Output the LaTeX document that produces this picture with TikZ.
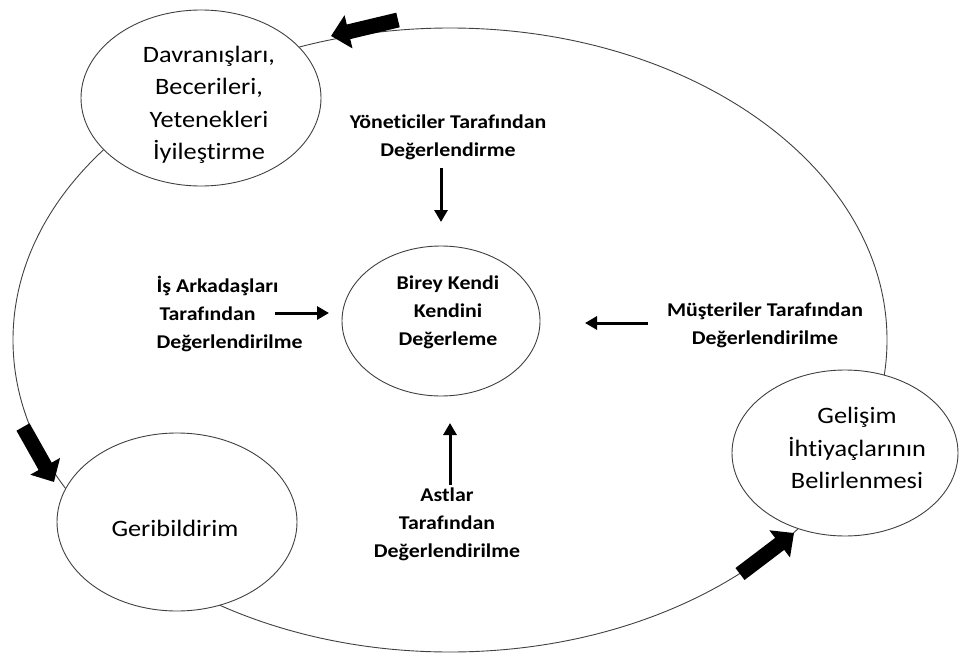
\documentclass[tikz,border=0pt]{standalone}
\usepackage{fontspec}
\setmainfont{Carlito}[FakeStretch=1.12,Ligatures={NoCommon}]
\usetikzlibrary{shapes.geometric,arrows.meta}
\begin{document}
\begin{tikzpicture}[x=1pt,y=-1pt,
  oval/.style={ellipse,draw=black!75,line width=0.9pt,fill=white,inner sep=0pt},
  reg/.style={align=center,font=\fontsize{23.5}{32.5}\selectfont},
  lbl/.style={align=center,font=\bfseries\fontsize{19.5}{28}\selectfont},
  small/.style={line width=3pt,-{Triangle[length=12pt,width=13pt]}},
  big/.style={line width=15pt,-{Triangle[length=18pt,width=33pt]}},
]
\useasboundingbox (0,0) rectangle (976,663);
\draw[black!75,line width=0.9pt] (450,340) ellipse [x radius=437pt, y radius=312pt];

\node[oval,minimum width=240pt,minimum height=176pt] (dav) at (201,98) {};
\node[reg] (davt) at (209,105) {Davranışları,\\Becerileri,\\Yetenekleri\\İyileştirme};
\node[oval,minimum width=240pt,minimum height=178pt] (geri) at (177,522) {};
\node[reg] (gerit) at (175,528) {Geribildirim};
\node[oval,minimum width=226pt,minimum height=166pt] (gel) at (845,453) {};
\node[reg] (gelt) at (857,448) {Gelişim\\İhtiyaçlarının\\Belirlenmesi};
\node[oval,minimum width=198pt,minimum height=150pt] (birey) at (441,321) {};
\node[lbl] (bireyt) at (448,312) {Birey Kendi\\Kendini\\Değerleme};

\node[lbl] (yon) at (448,137) {Yöneticiler Tarafından\\Değerlendirme};
\node[lbl,align=left,anchor=west] (is) at (153,314) {İş Arkadaşları\\\hspace{3pt}Tarafından\\Değerlendirilme};
\node[lbl] (mus) at (765,325) {Müşteriler Tarafından\\Değerlendirilme};
\node[lbl] (ast) at (447,524) {Astlar\\Tarafından\\Değerlendirilme};

\coordinate (yonA) at (441,168); \coordinate (yonB) at (441,222);
\coordinate (isA) at (275,313); \coordinate (isB) at (329,313);
\coordinate (musA) at (648,323); \coordinate (musB) at (585,323);
\coordinate (astA) at (450,485); \coordinate (astB) at (450,423);
\draw[small] (yonA) -- (yonB);
\draw[small] (isA) -- (isB);
\draw[small] (musA) -- (musB);
\draw[small] (astA) -- (astB);

\coordinate (b1a) at (398,20); \coordinate (b1b) at (331,36);
\coordinate (b2a) at (23,427); \coordinate (b2b) at (54,482);
\coordinate (b3a) at (740,574); \coordinate (b3b) at (794,533);
\draw[big] (b1a) -- (b1b);
\draw[big] (b2a) -- (b2b);
\draw[big] (b3a) -- (b3b);
\end{tikzpicture}
\end{document}
